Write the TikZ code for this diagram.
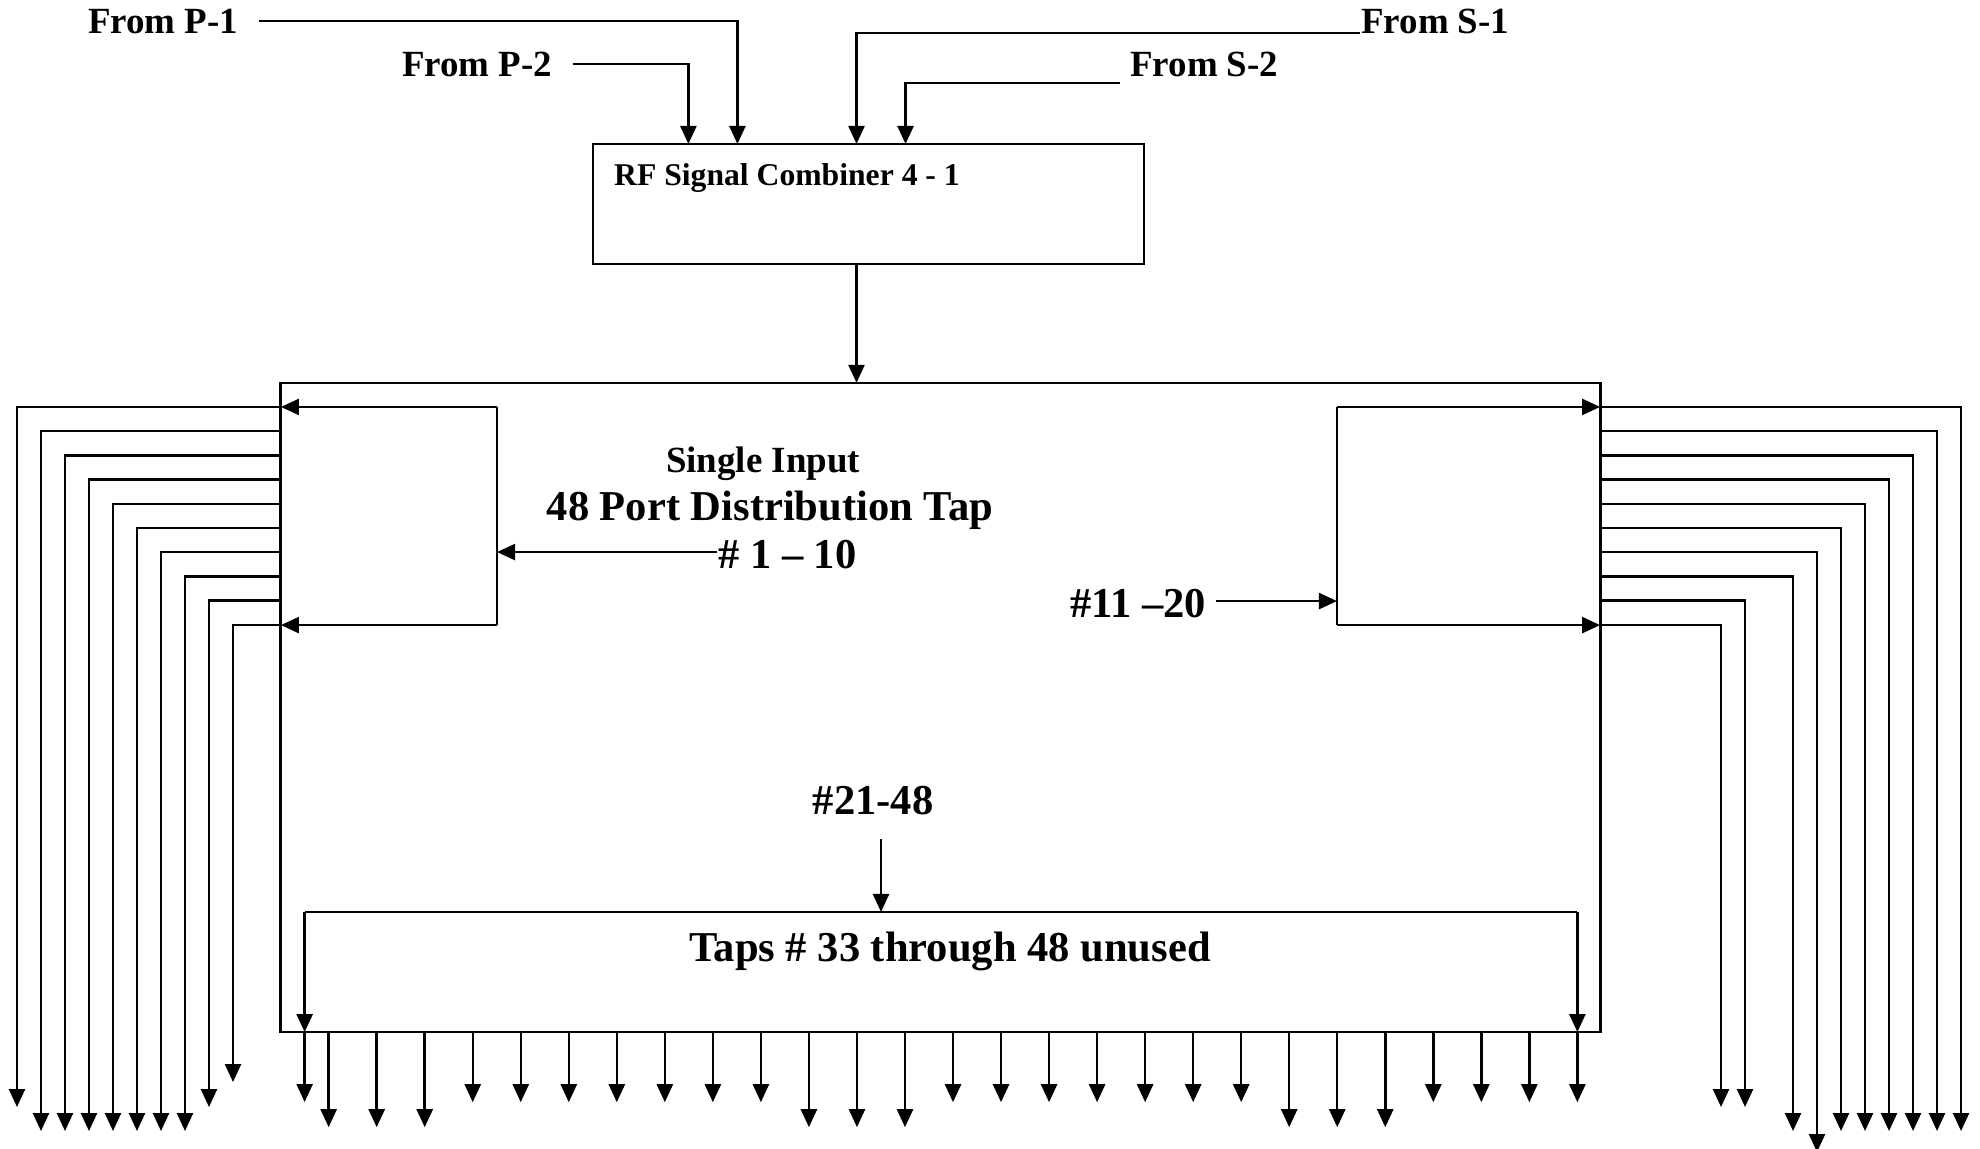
\documentclass[tikz,border=0pt]{standalone}
\usepackage{fontspec}
\setmainfont{Liberation Serif}
\usetikzlibrary{arrows.meta, positioning}

\begin{document}
\begin{tikzpicture}[x=0.01cm, y=-0.01cm, line width=0.7pt,
  arr/.style = {-{Triangle[length=0.18cm, width=0.16cm]}},
  lbl/.style = {font=\bfseries\fontsize{10.5}{12}\selectfont, inner sep=0pt},
  big/.style = {font=\bfseries\fontsize{12.1}{14}\selectfont, inner sep=0pt},
  blank/.style = {inner sep=0pt, outer sep=0pt}]
\useasboundingbox (0,0) rectangle (1980,1148);

% inputs
\node[lbl, anchor=base west] (p1) at (87,33) {From P-1};
\node[lbl, anchor=base west] (p2) at (401,76) {From P-2};
\node[lbl, anchor=base west] (s1) at (1360,33) {From S-1};
\node[lbl, anchor=base west] (s2) at (1129,76) {From S-2};

% combiner
\node[draw, blank, minimum width=5.51cm, minimum height=1.2cm] (comb) at (868.5,204) {};
\node[font=\bfseries\fontsize{9}{11}\selectfont, inner sep=0pt, anchor=base west] (combtxt) at (613,185) {RF Signal Combiner 4 - 1};

\draw[arr, shorten <=0.19cm] (p1.east) -| ([xshift=-1.31cm]comb.north);
\draw[arr, shorten <=0.19cm] (p2.east) -| ([xshift=-1.8cm]comb.north);
\draw[arr] (s1.base west) -| ([xshift=-0.12cm]comb.north);
\draw[arr] ([xshift=-0.09cm, yshift=-0.07cm]s2.base west) -| ([xshift=0.37cm]comb.north);

% distribution tap
\node[draw, blank, minimum width=13.19cm, minimum height=6.49cm] (tap) at (940.5,707.5) {};
\coordinate (combout) at ([xshift=-0.12cm]comb.south);
\draw[arr] (combout) -- (combout |- tap.north);

\node[lbl, anchor=base] (single) at (763,472) {Single Input};
\node[big, anchor=base] (ports) at (770,520) {48 Port Distribution Tap};

% left group
\node[blank, minimum width=2.16cm, minimum height=2.18cm] (lbox) at (389,516) {};
\draw[arr] (lbox.north east) -- (lbox.north west);
\draw (lbox.north east) -- (lbox.south east);
\draw[arr] (lbox.south east) -- (lbox.south west);
\node[big, anchor=base west] (n1to10) at (717,568) {\# 1 -- 10};
\draw[arr] ([yshift=0.02cm]n1to10.west) -- ([yshift=0.02cm]n1to10.west -| lbox.east);

% right group
\node[blank, minimum width=2.63cm, minimum height=2.18cm] (rbox) at (1468.5,516) {};
\draw[arr] (rbox.north west) -- (rbox.north east);
\draw (rbox.north west) -- (rbox.south west);
\draw[arr] (rbox.south west) -- (rbox.south east);
\node[big, anchor=base west] (n11to20) at (1069,617) {\#11 --20};
\draw[arr, shorten <=0.09cm] ([yshift=0.02cm]n11to20.east) -- ([yshift=0.02cm]n11to20.east -| rbox.west);

% bottom group
\node[blank, minimum width=12.72cm, minimum height=1.2cm] (bbox) at (941,972) {};
\draw (bbox.north west) -- (bbox.north east);
\draw[arr] (bbox.north west) -- (bbox.south west);
\draw[arr] (bbox.north east) -- (bbox.south east);
\node[big, anchor=base] (n21to48) at (873,814) {\#21-48};
\coordinate (n21out) at (881,839);
\draw[arr] (n21out) -- (n21out |- bbox.north);
\node[big, anchor=base] (unused) at (950,961) {Taps \# 33 through 48 unused};

% outputs
\foreach \i/\t in {0/1107,1/1131,2/1131,3/1131,4/1131,5/1131,6/1131,7/1131,8/1107,9/1082}
  \draw[arr] ([yshift={-0.242cm*\i}]lbox.north west) -| ({17+24*\i},\t);
\foreach \i/\x/\t in {0/1961/1131,1/1937/1131,2/1913/1131,3/1889/1131,4/1865/1131,5/1841/1131,6/1817/1152,7/1793/1131,8/1745/1107,9/1721/1107}
  \draw[arr] ([yshift={-0.242cm*\i}]rbox.north east) -| (\x,\t);
\draw[arr] (bbox.south west) -- ++(0,70);
\foreach \k in {3,...,9,13,14,...,19,23,24,25,26}
  \draw[arr] ([xshift={0.48cm+0.48cm*\k}]tap.south west) -- ++(0,70);
\foreach \k in {0,1,2,10,11,12,20,21,22}
  \draw[arr] ([xshift={0.48cm+0.48cm*\k}]tap.south west) -- ++(0,95);
\end{tikzpicture}
\end{document}
